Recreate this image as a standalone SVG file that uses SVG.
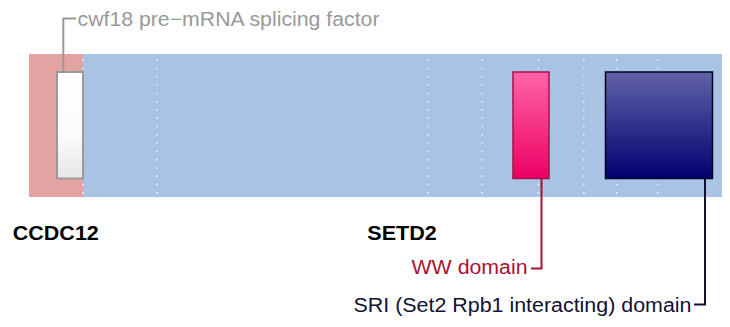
<svg xmlns="http://www.w3.org/2000/svg" width="730" height="327" viewBox="0 0 730 327">
<defs>
<linearGradient id="gWhite" x1="0" y1="0" x2="0" y2="1"><stop offset="0" stop-color="#ffffff"/><stop offset="0.6" stop-color="#fbfbfb"/><stop offset="1" stop-color="#e6e6e6"/></linearGradient>
<linearGradient id="gPink" x1="0" y1="0" x2="0" y2="1"><stop offset="0" stop-color="#ff64a8"/><stop offset="1" stop-color="#ec0064"/></linearGradient>
<linearGradient id="gNavy" x1="0" y1="0" x2="0" y2="1"><stop offset="0" stop-color="#6262aa"/><stop offset="1" stop-color="#000070"/></linearGradient>
<style>
.dot{stroke:#ffffff;stroke-width:1.4;stroke-dasharray:1.4 6.88;fill:none}
.lbl{font-family:"Liberation Sans",Arial,sans-serif;font-size:20px}
.bold{font-weight:bold;fill:#000}
.lead{fill:none;stroke-width:2}
</style>
</defs>
<g id="band">
<rect x="29" y="54" width="54" height="143" fill="#e4a3a3"/>
<rect x="83" y="54" width="639" height="143" fill="#a8c3e3"/>
</g>
<g id="ticks">
<line class="dot" x1="83" y1="59.6" x2="83" y2="194"/>
<line class="dot" x1="157" y1="59.6" x2="157" y2="194"/>
<line class="dot" x1="427.5" y1="59.6" x2="427.5" y2="194"/>
<line class="dot" x1="482" y1="59.6" x2="482" y2="194"/>
<line class="dot" x1="538.5" y1="59.6" x2="538.5" y2="194"/>
<line class="dot" x1="583.8" y1="59.6" x2="583.8" y2="194"/>
<line class="dot" x1="616.7" y1="59.6" x2="616.7" y2="194"/>
<line class="dot" x1="657.7" y1="59.6" x2="657.7" y2="194"/>
</g>
<g id="connectors">
<polyline class="lead" stroke="#999999" points="63.3,72 63.3,18.5 76,18.5"/>
<polyline class="lead" stroke="#aa1133" points="541.5,178 541.5,268.5 531,268.5"/>
<polyline class="lead" stroke="#111133" points="705,178 705,304.5 694,304.5"/>
</g>
<g id="cwf18">
<rect x="57" y="72" width="26" height="106.5" fill="url(#gWhite)" stroke="#999999" stroke-width="2"/>
<text class="lbl" x="77.5" y="26" fill="#999999" font-size="18" textLength="302" lengthAdjust="spacingAndGlyphs">cwf18 pre−mRNA splicing factor</text>
</g>
<g id="ww">
<rect x="513" y="72" width="36" height="106.5" fill="url(#gPink)" stroke="#aa1144" stroke-width="1.5"/>
<text class="lbl" x="411.5" y="274" fill="#aa1133" font-size="20" textLength="116" lengthAdjust="spacingAndGlyphs">WW domain</text>
</g>
<g id="sri">
<rect x="605.5" y="72" width="107" height="106.5" fill="url(#gNavy)" stroke="#000022" stroke-width="1.5"/>
<text class="lbl" x="353.5" y="311.5" fill="#111133" font-size="21" textLength="338" lengthAdjust="spacingAndGlyphs">SRI (Set2 Rpb1 interacting) domain</text>
</g>
<g id="ccdc12"><text class="lbl bold" x="12.8" y="239.5" textLength="86" lengthAdjust="spacingAndGlyphs">CCDC12</text></g>
<g id="setd2"><text class="lbl bold" x="367.3" y="240" textLength="69.5" lengthAdjust="spacingAndGlyphs">SETD2</text></g>
</svg>
